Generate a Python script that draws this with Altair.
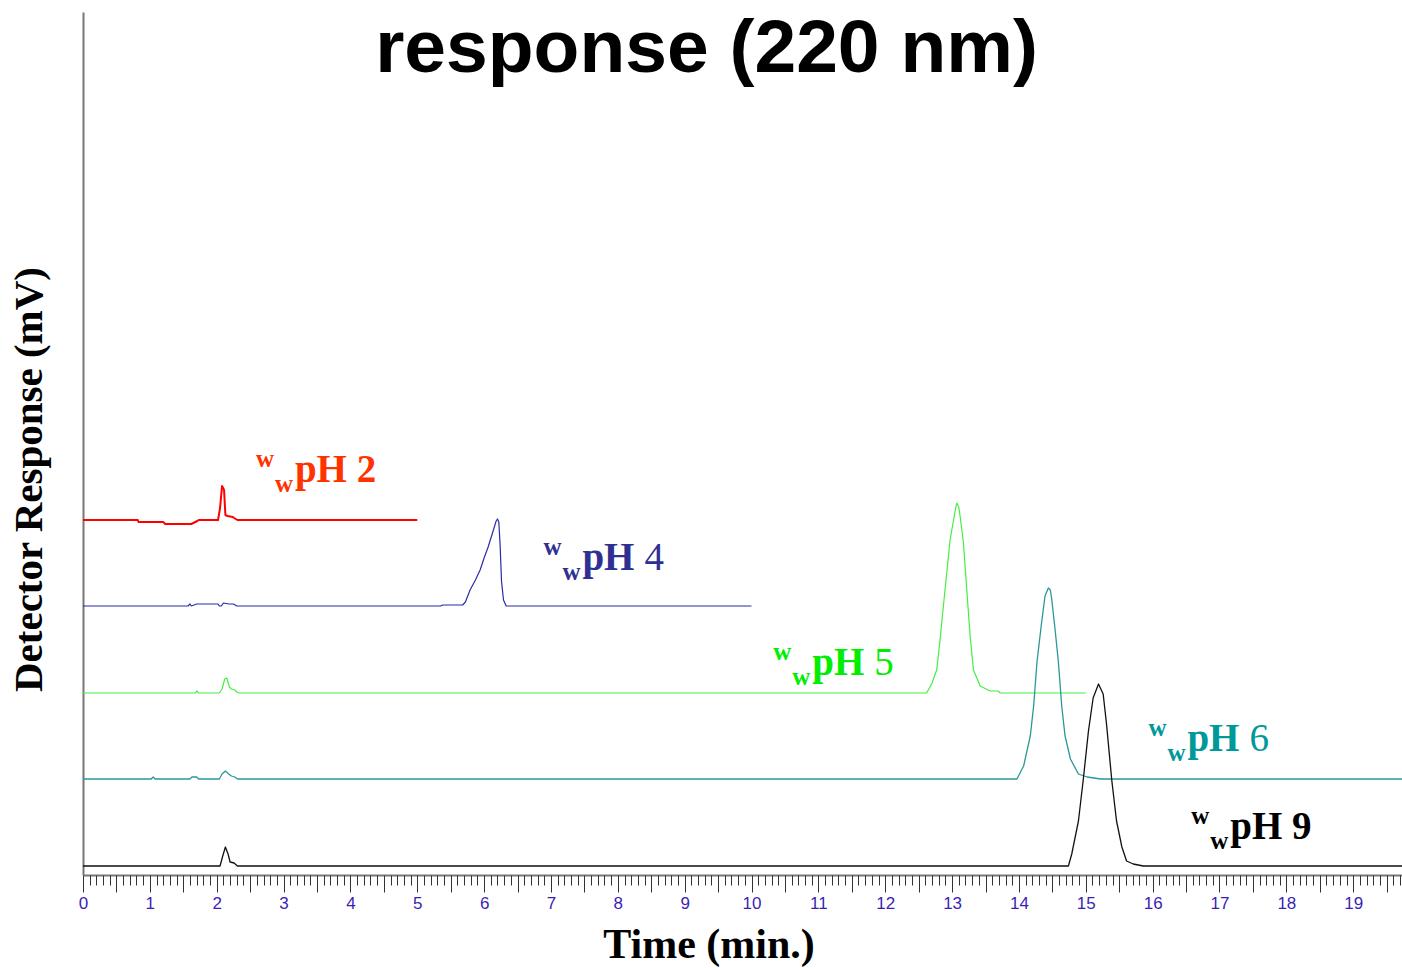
import altair as alt
import pandas as pd

# ---------------- data ----------------
series_names = ["pH 2", "pH 4", "pH 5", "pH 6", "pH 9"]
baselines = [355, 269, 182, 96, 9]          # detector offset of each trace
line_colors = ["#ff0000", "#2b2ba6", "#44ee44", "#2a9898", "#111111"]
label_colors = ["#ff3300", "#2e3192", "#00ee00", "#009999", "#000000"]
line_widths = [2.0, 1.2, 1.2, 1.3, 1.3]

ph2_t = [0, 0.82, 0.83, 1.20, 1.23, 1.62, 1.65, 1.71, 1.73, 2.02, 2.05, 2.08, 2.11, 2.13, 2.16, 2.24, 2.26, 2.31, 5.0]
ph2_v = [0, 0, -2, -2, -4, -4, -3, -1, 0, 0, 12, 34, 30, 5, 4, 3, 2, 0, 0]

ph4_t = [0, 1.57, 1.60, 1.62, 1.66, 1.70, 2.02, 2.04, 2.07, 2.10, 2.18, 2.25, 2.30, 5.35, 5.38, 5.68, 5.72,
         5.79, 5.87, 5.94, 6.00, 6.06, 6.13, 6.18, 6.20, 6.22, 6.24, 6.26, 6.29, 6.33, 10.0]
ph4_v = [0, 0, 2, 0, 1, 2, 2, 0, 0, 3, 2, 2, 0, 0, 1, 1, 4,
         16, 26, 36, 48, 59, 74, 85, 87, 84, 60, 25, 6, 0, 0]

ph5_t = [0, 1.68, 1.70, 1.73, 2.04, 2.08, 2.12, 2.15, 2.19, 2.22, 2.27, 2.30, 2.33, 12.62, 12.70, 12.77,
         12.82, 12.87, 12.92, 12.97, 13.04, 13.07, 13.10, 13.12, 13.17, 13.22, 13.27, 13.32, 13.42, 13.57,
         13.69, 13.72, 15.0]
ph5_v = [0, 0, 2, 0, 0, 4, 14, 15, 6, 4, 3, 1, 0, 0, 10, 23,
         53, 87, 120, 153, 180, 190, 186, 177, 150, 103, 57, 23, 7, 2,
         2, 0, 0]

ph6_t = [0, 1.02, 1.05, 1.08, 1.60, 1.63, 1.70, 1.73, 2.04, 2.08, 2.13, 2.18, 2.22, 2.27, 2.31, 13.97,
         14.07, 14.17, 14.22, 14.27, 14.34, 14.39, 14.44, 14.47, 14.49, 14.54, 14.59, 14.64, 14.69, 14.77,
         14.89, 15.02, 15.22, 19.73]
ph6_v = [0, 0, 2, 0, 0, 2, 2, 0, 0, 5, 8, 5, 3, 2, 0, 0,
         13, 43, 73, 117, 157, 183, 191, 189, 180, 150, 117, 73, 43, 20,
         5, 2, 0, 0]

ph9_t = [0, 2.05, 2.09, 2.13, 2.17, 2.20, 2.26, 2.31, 14.74, 14.79, 14.89, 14.96, 15.04, 15.11, 15.19,
         15.26, 15.31, 15.39, 15.46, 15.54, 15.61, 15.71, 15.86, 19.73]
ph9_v = [0, 0, 10, 19, 12, 4, 3, 0, 0, 12, 45, 85, 135, 168, 182,
         172, 142, 85, 45, 19, 5, 2, 0, 0]

all_t = [ph2_t, ph4_t, ph5_t, ph6_t, ph9_t]
all_v = [ph2_v, ph4_v, ph5_v, ph6_v, ph9_v]

# label anchors (time, detector value at the "pH" baseline)
label_t = [3.17, 7.47, 10.91, 16.52, 17.16]
label_v = [393, 305, 200, 124, 36]
label_main = ["pH 2", "pH", "pH", "pH", "pH 9"]
label_num = ["", "4", "5", "6", ""]

title_text = "response (220 nm)"
x_title = "Time (min.)"
y_title = "Detector Response (mV)"
x_max = 19.73
y_max = 863
major_ticks = [round(i * 0.5, 1) for i in range(0, 40)]
minor_ticks = [round(i * 0.1, 1) for i in range(0, 198)]

# ---------------- tables ----------------
rows = []
for name, base, col, w, ts, vs in zip(series_names, baselines, line_colors, line_widths, all_t, all_v):
    for t, v in zip(ts, vs):
        rows.append({"series": name, "t": t, "y": base + v, "color": col, "w": w})
lines_df = pd.DataFrame(rows)

labels_df = pd.DataFrame({
    "series": series_names, "t": label_t, "y": label_v,
    "main": label_main, "num": label_num, "color": label_colors,
})

xscale = alt.Scale(domain=[0, x_max], nice=False, zero=False)
yscale = alt.Scale(domain=[0, y_max], nice=False, zero=False)

serif = "Liberation Serif"

lines = alt.Chart(lines_df).mark_line(strokeJoin="round").encode(
    x=alt.X("t:Q", scale=xscale, axis=alt.Axis(
        orient="bottom",
        values=major_ticks, tickSize=17, tickColor="#333333", tickWidth=1,
        labelExpr="datum.value % 1 == 0 ? format(datum.value, 'd') : ''",
        labelFont="Liberation Sans", labelFontSize=17, labelColor="#3a1fb5",
        labelPadding=3, labelFlush=False, labelOverlap=False, labelBound=False,
        domainColor="#777777", domainWidth=2, grid=False,
        title=x_title, titleFont=serif, titleFontSize=42, titleFontWeight="bold",
        titleColor="#000000", titleX=625.5, titleY=82, titleAlign="center",
        titleBaseline="alphabetic")),
    y=alt.Y("y:Q", scale=yscale, axis=alt.Axis(
        orient="left",
        ticks=False, labels=False, grid=False, domainColor="#777777", domainWidth=2,
        title=y_title, titleFont=serif, titleFontSize=41, titleFontWeight="bold",
        titleColor="#000000", titleAngle=270, titleX=-54, titleY=467,
        titleAlign="center", titleBaseline="middle")),
    detail="series:N",
    color=alt.Color("color:N", scale=None),
    strokeWidth=alt.StrokeWidth("w:Q", scale=None),
)

base_lbl = alt.Chart(labels_df)
lbl_x = alt.X("t:Q", scale=xscale, axis=alt.Axis(
    orient="bottom",
    values=minor_ticks, tickSize=10, tickColor="#333333", tickWidth=1,
    labels=False, domain=False, grid=False, title=None))
lbl_y = alt.Y("y:Q", scale=yscale, axis=None)

sup_w = base_lbl.mark_text(text="w", font=serif, fontSize=25, fontWeight="bold",
                           align="left", baseline="alphabetic", dx=-39, dy=-15).encode(
    x=lbl_x, y=lbl_y, color=alt.Color("color:N", scale=None))
sub_w = base_lbl.mark_text(text="w", font=serif, fontSize=25, fontWeight="bold",
                           align="left", baseline="alphabetic", dx=-20, dy=10).encode(
    x=lbl_x, y=lbl_y, color=alt.Color("color:N", scale=None))
main_txt = base_lbl.mark_text(font=serif, fontSize=39, fontWeight="bold",
                              align="left", baseline="alphabetic").encode(
    x=lbl_x, y=lbl_y, text="main:N", color=alt.Color("color:N", scale=None))
num_txt = base_lbl.mark_text(font=serif, fontSize=39, fontWeight="normal",
                             align="left", baseline="alphabetic", dx=62).encode(
    x=lbl_x, y=lbl_y, text="num:N", color=alt.Color("color:N", scale=None))

title = alt.Chart(pd.DataFrame({"txt": [title_text]})).mark_text(
    font="Liberation Sans", fontSize=75, fontWeight="bold", align="center",
    baseline="alphabetic", color="#000000").encode(
    text="txt:N", x=alt.value(623.5), y=alt.value(60))

chart = alt.layer(lines, sup_w + sub_w + main_txt + num_txt, title).resolve_axis(
    x="independent", y="independent"
).properties(
    width=1319, height=863,
    autosize=alt.AutoSizeParams(type="none"),
    padding={"left": 83, "top": 12, "right": 0, "bottom": 93},
    background="white",
).configure_view(stroke=None)

chart.save("out.html", embed_options={"renderer": "svg", "actions": False})
